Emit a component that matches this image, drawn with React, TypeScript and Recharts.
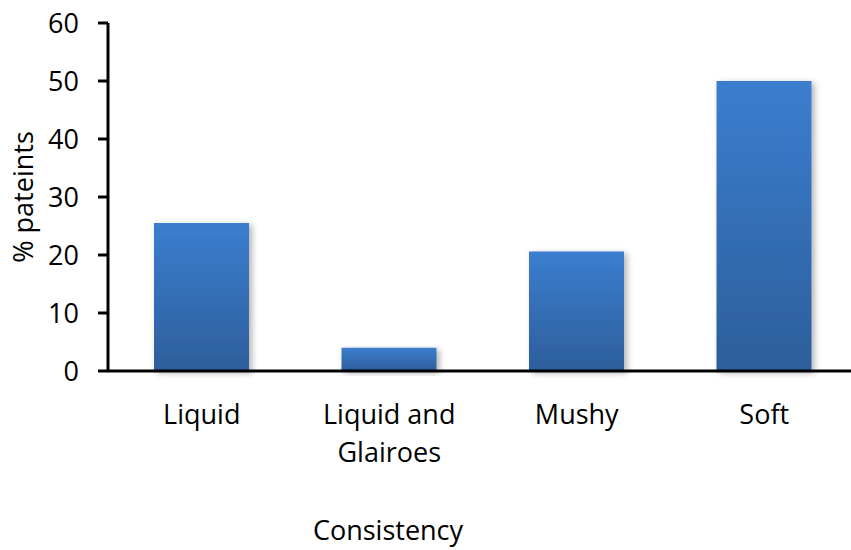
import React from 'react';
import { BarChart, Bar, XAxis, YAxis, Label } from 'recharts';

// values
const categories = ['Liquid', 'Liquid and Glairoes', 'Mushy', 'Soft'];
const patientPct = [25.5, 4, 20.6, 50];
const yTicks = [0, 10, 20, 30, 40, 50, 60];

const data = categories.map((name, i) => ({ name, value: patientPct[i] }));

const FONT = '"Open Sans", sans-serif';

// simple word wrap so long category names break like in Excel
const wrapWords = (label: string, maxChars: number) => {
  const lines: string[] = [];
  let cur = '';
  label.split(' ').forEach((w) => {
    const next = cur ? `${cur} ${w}` : w;
    if (next.length > maxChars && cur) {
      lines.push(cur);
      cur = w;
    } else {
      cur = next;
    }
  });
  if (cur) lines.push(cur);
  return lines;
};

const CategoryTick = (props: any) => {
  const { x, y, payload } = props;
  const lines = wrapWords(String(payload.value), 12);
  return (
    <text x={x} y={y + 51} textAnchor="middle" fontSize={27} fontFamily={FONT} fill="#000">
      {lines.map((line, i) => (
        <tspan key={i} x={x} dy={i === 0 ? 0 : 38}>
          {line}
        </tspan>
      ))}
    </text>
  );
};

const App: React.FC = () => {
  return (
    <div style={{ position: 'fixed', left: 0, top: 0, width: 851, height: 550, overflow: 'hidden', background: '#fff' }}>
      <BarChart
        width={860}
        height={550}
        data={data}
        margin={{ top: 23, right: 2, left: 0, bottom: 0 }}
        barSize={95}
      >
        <defs>
          <linearGradient id="barFill" x1="0" y1="0" x2="0" y2="1">
            <stop offset="0%" stopColor="#3B7ECF" />
            <stop offset="100%" stopColor="#2D5E9B" />
          </linearGradient>
          <filter id="barShadow" x="-10%" y="-10%" width="130%" height="130%">
            <feDropShadow dx="3" dy="2" stdDeviation="3" floodColor="#000" floodOpacity="0.3" />
          </filter>
        </defs>
        <XAxis
          dataKey="name"
          height={179}
          interval={0}
          tickLine={false}
          tickSize={0}
          axisLine={{ stroke: '#000', strokeWidth: 3 }}
          tick={<CategoryTick />}
        >
          <Label
            content={() => (
              <text x={388} y={540} textAnchor="middle" fontSize={27} fontFamily={FONT} fill="#000">
                Consistency
              </text>
            )}
          />
        </XAxis>
        <YAxis
          width={108}
          domain={[0, 60]}
          ticks={yTicks}
          interval={0}
          tickSize={10}
          tickMargin={19}
          tickLine={{ stroke: '#000', strokeWidth: 3 }}
          axisLine={{ stroke: '#000', strokeWidth: 3 }}
          tick={{ fontSize: 27, fontFamily: FONT, fill: '#000' }}
        >
          <Label
            content={() => (
              <text
                x={0}
                y={0}
                transform="translate(33, 197) rotate(-90)"
                textAnchor="middle"
                fontSize={27}
                fontFamily={FONT}
                fill="#000"
              >
                % pateints
              </text>
            )}
          />
        </YAxis>
        <Bar dataKey="value" fill="url(#barFill)" filter="url(#barShadow)" isAnimationActive={false} />
      </BarChart>
    </div>
  );
};

export default App;
